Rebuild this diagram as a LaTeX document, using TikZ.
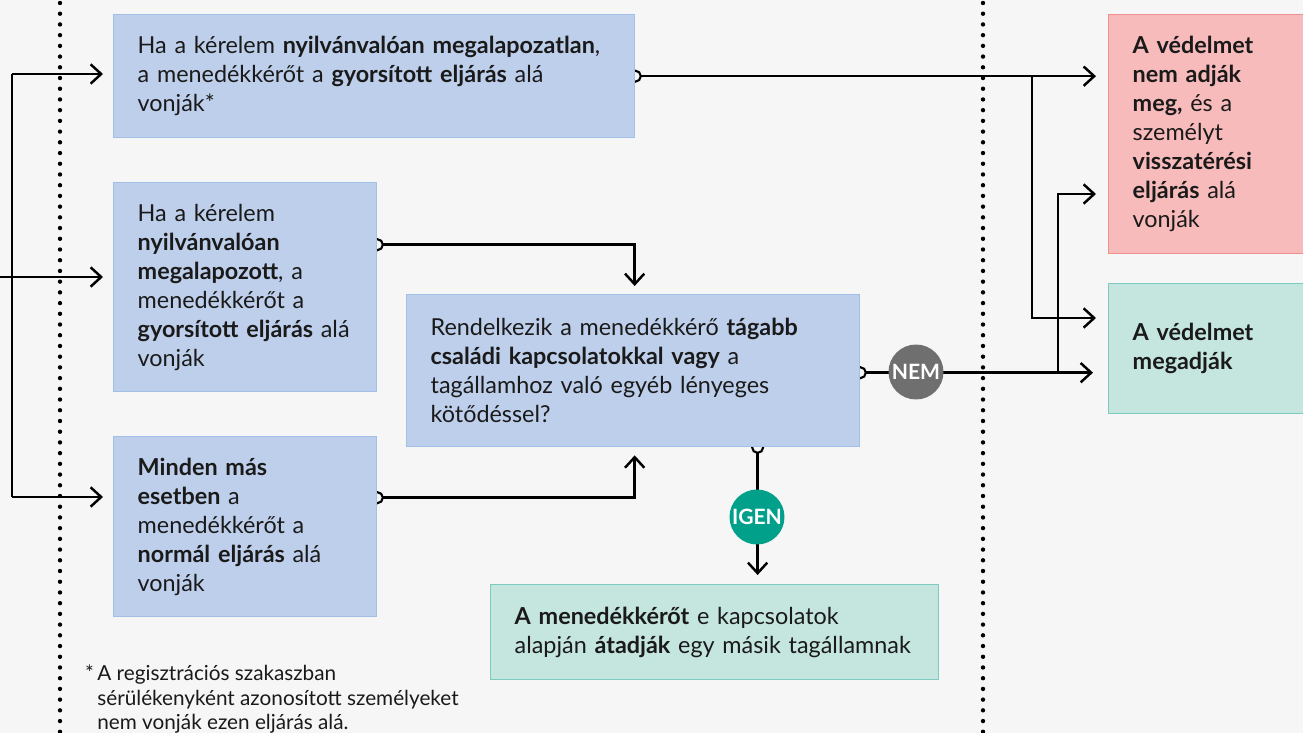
\documentclass[tikz,border=0pt]{standalone}
\usepackage{fontspec}
\setmainfont{Lato}
\usetikzlibrary{arrows.meta}
\pgfdeclarelayer{back}
\pgfdeclarelayer{lines}
\pgfsetlayers{back,lines,main}
\definecolor{bgcol}{HTML}{F6F6F6}
\definecolor{ink}{HTML}{1A1A1A}
\definecolor{bluefill}{HTML}{BECFEB}
\definecolor{blueline}{HTML}{A2BFE7}
\definecolor{redfill}{HTML}{F8BBBB}
\definecolor{redline}{HTML}{F29090}
\definecolor{greenfill}{HTML}{C5E5DF}
\definecolor{greenline}{HTML}{7DCBBE}
\definecolor{nemcol}{HTML}{6F6F6F}
\definecolor{igencol}{HTML}{00A08B}
\tikzset{
  box/.style={draw=#1line, fill=#1fill, line width=0.8pt, anchor=north west,
    align=left, inner xsep=0.48cm, inner ysep=0pt, text=ink,
    font=\fontsize{13.3}{16.5}\selectfont},
  badge/.style={circle, fill=#1, text=white, inner sep=0pt, minimum size=1.1cm,
    font=\bfseries\fontsize{12}{12}\selectfont},
  link/.style={line width=1.4pt, line join=miter},
  arr/.style={link, -{Straight Barb[length=6pt,width=11pt]}, shorten >=0.2cm},
  ring/.style={line width=1.2pt, fill=bgcol},
  dots/.style={line width=2.5pt, line cap=round, dash pattern=on 0pt off 6.1pt}
}
\begin{document}
\begin{tikzpicture}[x=0.02cm,y=-0.02cm]
  \begin{pgfonlayer}{back}
  \fill[bgcol] (0,0) rectangle (1303,733);
  \end{pgfonlayer}
  \useasboundingbox (0,0) rectangle (1303,733);
  \clip (0,0) rectangle (1303,733);

  % the three ways in
  \node[box=blue, text width=9.46cm, minimum height=2.46cm] (boxA) at (113,14)
    {Ha a kérelem \textbf{nyilvánvalóan megalapozatlan},\\
     a menedékkérőt a \textbf{gyorsított eljárás} alá\\ vonják*};
  \node[box=blue, text width=4.30cm, minimum height=4.18cm] (boxB) at (113,182)
    {Ha a kérelem\\ \textbf{nyilvánvalóan}\\ \textbf{megalapozott}, a\\
     menedékkérőt a\\ \textbf{gyorsított eljárás} alá\\ vonják};
  \node[box=blue, text width=4.30cm, minimum height=3.60cm] (boxC) at (113,436)
    {\textbf{Minden más}\\ \textbf{esetben} a\\ menedékkérőt a\\
     \textbf{normál eljárás} alá\\ vonják};
  \node[box=blue, text width=8.10cm, minimum height=3.04cm] (boxQ) at (406,294)
    {Rendelkezik a menedékkérő \textbf{tágabb}\\
     \textbf{családi kapcsolatokkal vagy} a\\
     tagállamhoz való egyéb lényeges\\ kötődéssel?};
  \node[box=green, text width=8.00cm, minimum height=1.90cm] (boxT) at (490,584)
    {\textbf{A menedékkérőt} e kapcsolatok\\
     alapján \textbf{átadják} egy másik tagállamnak};

  % outcomes
  \node[box=red, text width=3.28cm, minimum height=4.78cm] (red) at (1108,14)
    {\textbf{A védelmet}\\ \textbf{nem adják}\\ \textbf{meg,} és a\\ személyt\\
     \textbf{visszatérési}\\ \textbf{eljárás} alá\\ vonják};
  \node[box=green, text width=3.28cm, minimum height=2.60cm] (green) at (1108,283)
    {\textbf{A védelmet}\\ \textbf{megadják}};

  \node[badge=nemcol] (nem) at (916,372) {NEM};
  \node[badge=igencol] (igen) at (757,517) {IGEN};

  \node[anchor=north west, align=left, inner sep=0pt, text=ink,
    font=\fontsize{11.8}{13.9}\selectfont] (note) at (97,665)
    {\llap{*\,}A regisztrációs szakaszban\\
     sérülékenyként azonosított személyeket\\
     nem vonják ezen eljárás alá.};

  \begin{pgfonlayer}{lines}
  \draw[dots] (60,3) -- (60,733);
  \draw[dots] (983,3) -- (983,733);

  \coordinate (inlet) at (0,277);
  \coordinate (forkA) at (12,74);
  \coordinate (forkC) at (12,497);
  \draw[link] (forkA) -- (forkC);
  \draw[arr] (forkA) -- (forkA -| boxA.west);
  \draw[arr] (inlet) -- (inlet -| boxB.west);
  \draw[arr] (forkC) -- (forkC -| boxC.west);

  \coordinate (outA) at (boxA.east);
  \coordinate (outB) at ([yshift=0.85cm]boxB.east);
  \coordinate (outC) at ([yshift=0.58cm]boxC.east);
  \coordinate (outQ) at ([yshift=-0.04cm]boxQ.east);
  \coordinate (outQs) at ([xshift=2.49cm]boxQ.south);
  \coordinate (bendA) at (1032,318);
  \coordinate (bendQ) at (1058,194);

  \draw[arr, shorten >=0.16cm] (outB) -| ([xshift=0.03cm]boxQ.north);
  \draw[arr, shorten >=0.16cm] (outC) -| ([xshift=0.03cm]boxQ.south);
  \draw[arr, shorten >=0.24cm] (outA) -- (outA -| red.west);
  \draw[arr, shorten >=0.24cm] (bendA |- outA) -- (bendA) -- (bendA -| green.west);
  \draw[arr, shorten >=0.3cm] (outQ) -- (outQ -| green.west);
  \draw[arr, shorten >=0.24cm] (bendQ |- outQ) -- (bendQ) -- (bendQ -| red.west);
  \draw[arr, shorten >=0.18cm] (outQs) -- (outQs |- boxT.north);
  \foreach \p in {outA,outB,outC,outQ,outQs}
    \draw[ring] (\p) circle (0.11cm);
  \end{pgfonlayer}
\end{tikzpicture}
\end{document}
